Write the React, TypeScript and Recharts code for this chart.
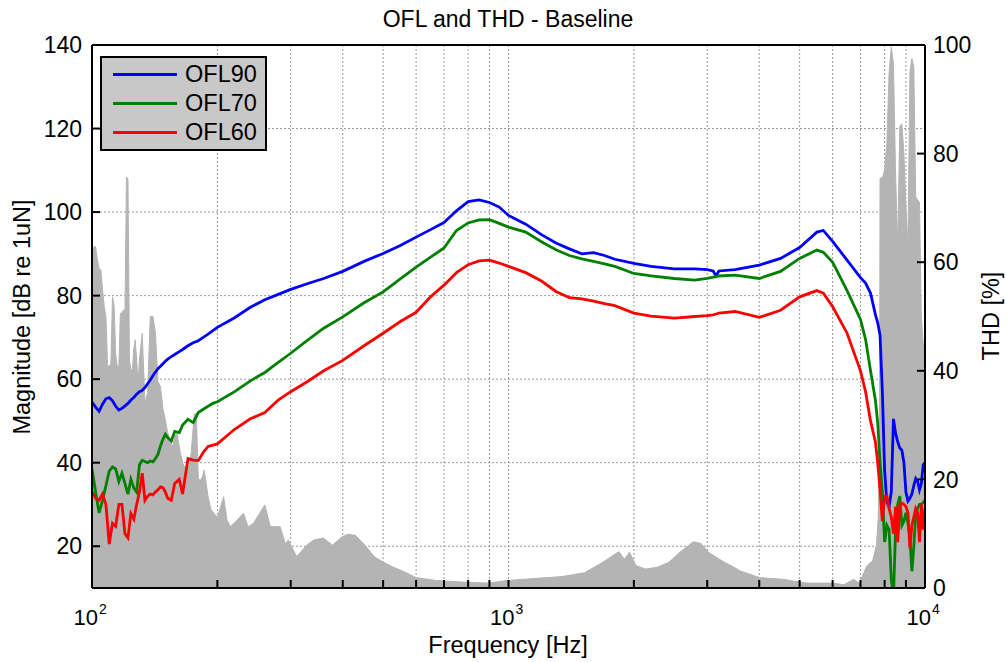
import React from 'react';
import { ComposedChart, Line, Area, XAxis, YAxis, CartesianGrid, ReferenceLine, Legend } from 'recharts';

// ---- data ----
const oflFreq = [100, 102, 104, 106, 108, 110, 112, 114, 116, 118, 120, 122, 124, 126, 128, 130, 132, 134, 136, 138, 140, 142, 144, 146, 148, 150,
  152, 155, 158, 162, 165, 170, 175, 180, 185, 190, 195, 200,
  220, 240, 260, 280, 300, 330, 360, 400, 450, 500, 550, 600, 650, 700, 750, 800, 850, 900, 950, 1000,
  1100, 1200, 1300, 1400, 1500, 1600, 1700, 1800, 2000, 2200, 2500, 2800, 3000, 3100, 3150, 3200, 3500, 4000, 4500, 5000, 5500, 5700, 6000, 6500, 7000,
  7200, 7400, 7600, 7700, 7800, 7900,
  8000, 8100, 8200, 8300, 8400, 8500, 8600, 8700, 8800, 8900, 9000, 9100, 9200, 9300, 9400, 9500, 9600, 9700, 9800, 9900, 10000];

const ofl90 = [54.5, 53.3, 52.3, 54.0, 55.3, 55.6, 54.8, 53.5, 52.6, 53.0, 53.6, 54.2, 55.0, 55.6, 56.4, 57.0, 57.3, 58.0, 58.9, 59.8, 60.8, 61.7, 62.5, 63.1, 63.7, 64.3,
  64.8, 65.4, 65.9, 66.6, 67.1, 68.0, 68.7, 69.2, 70.0, 70.8, 71.6, 72.4,
  74.7, 77.2, 79.0, 80.3, 81.5, 82.9, 84.1, 85.8, 88.2, 90.1, 92.0, 94.0, 95.8, 97.5, 100.3, 102.5, 102.9, 102.3, 101.2, 99.2,
  97.1, 94.6, 92.6, 91.2, 90.0, 90.3, 89.6, 88.7, 87.7, 87.0, 86.4, 86.4, 86.2, 85.9, 84.7, 85.9, 86.2, 87.3, 88.9, 91.5, 95.2, 95.6, 93.0, 88.5, 84.3,
  83.0, 80.6, 75.5, 73.5, 70.5, 57.0,
  38.0, 30.5, 29.5, 33.0, 50.5, 47.0, 45.0, 43.5, 43.0, 40.0, 33.0, 30.8, 31.5, 32.5, 34.5, 36.2, 35.5, 33.5, 35.0, 39.5, 40.0];

const ofl70 = [38.5, 33.0, 28.0, 31.0, 34.5, 38.0, 39.0, 38.5, 35.5, 37.5, 35.0, 32.5, 36.0, 34.0, 33.0, 39.5, 40.6, 40.3, 40.0, 40.4, 40.2, 41.0, 42.0, 44.0, 45.6, 46.8,
  46.0, 45.2, 47.5, 47.2, 49.0, 50.4, 49.6, 52.0, 52.8, 53.5, 54.2, 54.6,
  57.0, 59.6, 61.6, 64.0, 66.2, 69.4, 72.2, 74.9, 78.3, 80.9, 84.0, 86.8, 89.2, 91.4, 95.6, 97.4, 98.1, 98.2, 97.3, 96.4,
  95.2, 92.9, 91.0, 89.6, 88.8, 88.2, 87.6, 87.0, 85.3, 84.7, 84.1, 83.7, 84.1, 84.4, 84.6, 84.7, 84.9, 84.1, 85.8, 88.9, 90.9, 90.4, 88.0, 81.2, 74.3,
  69.5, 62.0, 55.0, 49.5, 40.0, 33.0,
  21.0, 25.0, 24.0, 12.0, 8.0, 24.0, 30.0, 32.0, 25.0, 26.0, 28.0, 25.5, 22.0, 14.0, 20.0, 27.5, 29.0, 30.0, 30.0, 30.5, 31.0];

const ofl60 = [33.0, 31.5, 31.0, 32.5, 30.0, 20.5, 25.5, 24.8, 30.0, 30.0, 23.0, 22.0, 27.8, 26.5, 30.0, 33.0, 37.5, 31.0, 32.0, 32.5, 32.3, 33.0, 33.5, 34.2, 34.0, 33.0,
  31.5, 31.0, 35.0, 36.0, 32.5, 41.0, 40.6, 40.5, 42.5, 43.9, 44.2, 44.5,
  48.0, 50.5, 52.0, 55.0, 57.0, 59.5, 62.0, 64.5, 68.0, 71.0, 73.8, 76.0, 79.7, 82.5, 85.5, 87.4, 88.3, 88.5, 87.8, 87.0,
  85.5, 83.5, 81.0, 79.5, 79.2, 78.7, 78.1, 77.6, 75.8, 75.1, 74.6, 75.0, 75.2, 75.4, 75.6, 75.8, 76.2, 74.8, 76.5, 79.7, 81.2, 80.6, 77.4, 71.0, 62.0,
  57.0, 50.0, 45.0, 40.0, 33.5, 26.0,
  32.0, 32.0, 29.0, 27.0, 23.0, 29.5, 21.0, 30.0, 30.3, 30.0, 29.5, 28.0, 19.5, 25.0, 27.0, 29.0, 28.0, 21.0, 30.0, 24.0, 29.0];

const thdFreq = [100, 101, 102, 103, 104, 105, 106, 107, 108, 109, 110, 111, 112, 113, 114, 115, 116, 117, 118, 119, 120, 121, 122, 123, 124, 125, 126, 127, 128, 129, 130,
  132, 134, 136, 138, 140, 142, 144, 146, 148, 150, 152, 154, 156, 158, 160, 163, 166, 170, 173, 176, 178, 180, 183, 186, 190, 193, 196, 200,
  207, 211, 215, 223, 231, 237, 244, 260, 268, 283, 291, 296, 310, 328, 340, 359, 378, 398, 411, 429, 452, 477, 503, 530, 558, 601, 668, 773, 898, 997,
  1132, 1341, 1521, 1656, 1727, 1840, 1899, 1952, 2024, 2133, 2273, 2423, 2581, 2777, 2897, 3021, 3255, 3615, 4016, 4560, 5180, 5996, 6390, 6735, 6954,
  7253, 7485, 7647, 7723, 7775, 7800, 7900, 8000, 8100, 8200, 8300, 8400, 8500, 8600, 8700, 8800, 8900, 9000, 9100, 9200, 9300, 9400, 9500, 9600, 9700, 9800, 9900, 10000];

const thdPct = [60.4, 62.8, 62.9, 60.5, 58.8, 58.6, 55.0, 51.8, 50.0, 41.0, 40.8, 41.4, 53.6, 52.0, 43.0, 40.8, 40.8, 50.6, 50.6, 51.2, 51.2, 75.7, 75.2, 42.0, 40.1, 40.3, 44.0, 45.7, 42.0, 37.7, 42.0,
  46.9, 34.0, 36.0, 50.0, 50.0, 47.0, 38.0, 37.1, 33.0, 31.0, 28.5, 27.0, 26.0, 28.0, 28.5, 24.8, 22.5, 22.0, 24.8, 32.0, 32.2, 20.0, 19.9, 21.7, 16.8, 14.5, 13.8, 13.0,
  16.8, 12.5, 11.3, 12.5, 13.8, 11.3, 11.9, 15.3, 11.3, 11.3, 8.2, 8.8, 5.8, 7.9, 8.8, 9.2, 7.9, 9.4, 9.9, 9.7, 7.9, 5.7, 4.7, 3.8, 3.1, 1.9, 1.4, 1.1, 0.9, 1.4,
  1.7, 2.1, 2.8, 4.4, 5.3, 6.7, 5.3, 6.6, 4.1, 3.5, 3.8, 4.7, 6.6, 8.5, 8.2, 6.6, 5.0, 3.1, 1.9, 1.6, 0.9, 0.9, 0.6, 1.6, 0.9,
  4.1, 5.0, 7.9, 13.0, 27.0, 75.5, 75.5, 77.0, 82.0, 95.0, 99.6, 96.5, 76.0, 63.0, 85.0, 85.5, 80.0, 70.0, 63.0, 95.0, 97.5, 96.0, 72.0, 71.5, 71.0, 50.0, 45.0, 45.0];

const leftTicks = [20, 40, 60, 80, 100, 120, 140];
const rightTicks = [0, 20, 40, 60, 80, 100];
const decadeStarts = [100, 1000];
const freqTicks = [...decadeStarts.flatMap((d) => [1, 2, 3, 4, 5, 6, 7, 8, 9].map((m) => m * d)), 10000];
const labelledTicks = [100, 1000, 10000];

const series = [
  { key: 'ofl90', name: 'OFL90', color: '#0000ff', values: ofl90 },
  { key: 'ofl70', name: 'OFL70', color: '#008000', values: ofl70 },
  { key: 'ofl60', name: 'OFL60', color: '#ff0000', values: ofl60 },
];

const oflRows = oflFreq.map((f, i) => {
  const row: Record<string, number> = { f };
  series.forEach((s) => { row[s.key] = s.values[i]; });
  return row;
});
const thdRows = thdFreq.map((f, i) => ({ f, thd: thdPct[i] }));

const FONT = '"Liberation Sans", Arial, Helvetica, sans-serif';

function XTick(props: any) {
  const { x, y, payload } = props;
  if (!labelledTicks.includes(payload.value)) return <g />;
  const exp = Math.round(Math.log10(payload.value));
  return (
    <g>
      <text x={x + 6} y={y + 37} textAnchor="end" fontSize={22} fill="#000" fontFamily={FONT}>10</text>
      <text x={x + 7} y={y + 26} textAnchor="start" fontSize={14} fill="#000" fontFamily={FONT}>{exp}</text>
    </g>
  );
}

function LegendBox(props: any) {
  const payload = (props.payload || []).filter((p: any) => p.type !== 'none');
  const items = series
    .map((s) => payload.find((p: any) => p.value === s.name))
    .filter(Boolean);
  return (
    <div style={{ boxSizing: 'border-box', width: 167, height: 95, border: '2px solid #000', background: '#c8c8c8', paddingTop: 1.5 }}>
      {items.map((it: any) => (
        <div key={it.value} style={{ display: 'flex', alignItems: 'center', height: 29 }}>
          <div style={{ marginLeft: 11, width: 64, height: 3, background: it.color }} />
          <span style={{ marginLeft: 8, fontSize: 23.5, fontFamily: FONT, color: '#000', lineHeight: '29px' }}>{it.value}</span>
        </div>
      ))}
    </div>
  );
}

export default function App() {
  return (
    <div style={{ position: 'absolute', left: 0, top: 0, width: 1006, height: 662, background: '#fff' }}>
      <ComposedChart width={1006} height={662} margin={{ top: 45, right: 0, bottom: 0, left: 0 }}>
        <CartesianGrid xAxisId="x" yAxisId="left" stroke="#999" strokeDasharray="2 2" strokeWidth={1} />
        <XAxis
          xAxisId="x"
          dataKey="f"
          type="number"
          scale="log"
          domain={[100, 10000]}
          allowDataOverflow
          ticks={freqTicks}
          interval={0}
          height={74}
          tickSize={-8}
          tickMargin={8}
          axisLine={{ stroke: '#000', strokeWidth: 2 }}
          tickLine={{ stroke: '#000', strokeWidth: 2 }}
          tick={<XTick />}
        />
        <XAxis
          xAxisId="top"
          orientation="top"
          dataKey="f"
          type="number"
          scale="log"
          domain={[100, 10000]}
          allowDataOverflow
          ticks={freqTicks}
          interval={0}
          height={0}
          tickSize={-8}
          axisLine={{ stroke: '#000', strokeWidth: 2 }}
          tickLine={{ stroke: '#000', strokeWidth: 2 }}
          tick={() => <g />}
        />
        <YAxis
          yAxisId="left"
          orientation="left"
          domain={[10, 140]}
          allowDataOverflow
          ticks={leftTicks}
          interval={0}
          width={92}
          tickSize={-8}
          tickMargin={18}
          axisLine={{ stroke: '#000', strokeWidth: 2 }}
          tickLine={{ stroke: '#000', strokeWidth: 2 }}
          tick={{ fontSize: 23, fill: '#000', fontFamily: FONT }}
        />
        <YAxis
          yAxisId="right"
          orientation="right"
          domain={[0, 100]}
          allowDataOverflow
          ticks={rightTicks}
          interval={0}
          width={81}
          tickSize={-8}
          tickMargin={16}
          axisLine={{ stroke: '#000', strokeWidth: 2 }}
          tickLine={{ stroke: '#000', strokeWidth: 2 }}
          tick={{ fontSize: 23, fill: '#000', fontFamily: FONT }}
        />
        <Area
          xAxisId="x"
          yAxisId="right"
          data={thdRows}
          dataKey="thd"
          name="THD"
          type="linear"
          fill="#b4b4b4"
          fillOpacity={1}
          stroke="#b4b4b4"
          strokeWidth={1}
          legendType="none"
          isAnimationActive={false}
        />
        {series.map((s) => (
          <Line
            key={s.key}
            xAxisId="x"
            yAxisId="left"
            data={oflRows}
            dataKey={s.key}
            name={s.name}
            type="linear"
            stroke={s.color}
            strokeWidth={2.8}
            dot={false}
            activeDot={false}
            isAnimationActive={false}
          />
        ))}
        <ReferenceLine xAxisId="x" yAxisId="left" y={140} stroke="#000" strokeWidth={2} />
        <Legend
          layout="vertical"
          align="center"
          verticalAlign="middle"
          wrapperStyle={{ left: 100, top: 56, width: 167, height: 95 }}
          content={<LegendBox />}
        />
      </ComposedChart>
      <svg width={1006} height={662} style={{ position: 'absolute', left: 0, top: 0, pointerEvents: 'none' }}>
        <text x={508} y={27} textAnchor="middle" fontSize={23} fontFamily={FONT} fill="#000">OFL and THD - Baseline</text>
        <text x={508} y={653} textAnchor="middle" fontSize={23.5} fontFamily={FONT} fill="#000">Frequency [Hz]</text>
        <text x={30} y={317} textAnchor="middle" fontSize={23.5} fontFamily={FONT} fill="#000" transform="rotate(-90 30 317)">Magnitude [dB re 1uN]</text>
        <text x={999} y={316} textAnchor="middle" fontSize={23.5} fontFamily={FONT} fill="#000" transform="rotate(-90 999 316)">THD [%]</text>
      </svg>
    </div>
  );
}
